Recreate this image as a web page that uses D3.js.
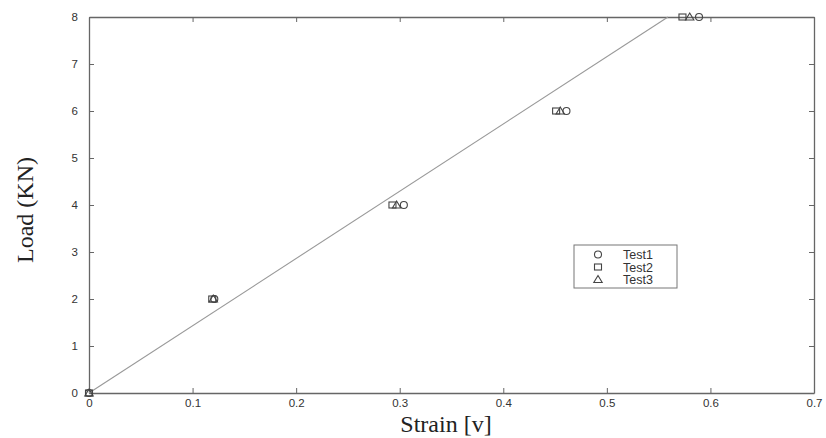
<!DOCTYPE html>
<html>
<head>
<meta charset="utf-8">
<script src="https://cdn.jsdelivr.net/npm/d3@7"></script>
<style>
  body { margin: 0; background: #fff; }
</style>
</head>
<body>
<div id="chart"></div>
<script>
// values
const loads = [0, 2, 4, 6, 8]
const test1 = [0, 0.121, 0.304, 0.461, 0.589]
const test2 = [0, 0.119, 0.293, 0.451, 0.573]
const test3 = [0, 0.120, 0.297, 0.455, 0.580]
const fitStrain = [0, 0.559]
const fitLoad = [0, 8]
const xTicks = [0, 0.1, 0.2, 0.3, 0.4, 0.5, 0.6, 0.7]
const yTicks = [0, 1, 2, 3, 4, 5, 6, 7, 8]

const width = 826, height = 438
const margin = { top: 17, left: 89, right: 12, bottom: 45 }
const w = width - margin.left - margin.right
const h = height - margin.top - margin.bottom

const svg = d3.select("#chart").append("svg")
    .attr("width", width).attr("height", height)

const g = svg.append("g")
    .attr("transform", `translate(${margin.left}, ${margin.top})`)

const x = d3.scaleLinear().domain([0, 0.7]).range([0, w])
const y = d3.scaleLinear().domain([0, 8]).range([h, 0])

const axisColor = "#666"
const fmt = d => d === 0 ? "0" : String(d)

// axes: bottom/left with labels, top/right with ticks only (inward)
const ax = [
    { a: d3.axisBottom(x).tickValues(xTicks).tickFormat(fmt), t: `translate(0,${h})`, pad: 6 },
    { a: d3.axisTop(x).tickValues(xTicks).tickFormat(""), t: "translate(0,0)", pad: 3 },
    { a: d3.axisLeft(y).tickValues(yTicks).tickFormat(fmt), t: "translate(0,0)", pad: 11 },
    { a: d3.axisRight(y).tickValues(yTicks).tickFormat(""), t: `translate(${w},0)`, pad: 3 }
]
ax.forEach(o => {
    const sel = g.append("g").attr("transform", o.t)
        .call(o.a.tickSizeInner(-5).tickSizeOuter(0).tickPadding(o.pad))
    sel.select(".domain").attr("stroke", axisColor).attr("stroke-width", 1.3)
    sel.selectAll(".tick line").attr("stroke", axisColor)
    sel.selectAll(".tick text")
        .attr("fill", "#333")
        .style("font-family", "Liberation Sans, Arial, sans-serif")
        .style("font-size", "11.5px")
})

// fit line
const fit = fitStrain.map((s, i) => [s, fitLoad[i]])
g.append("path")
    .datum(fit)
    .attr("fill", "none")
    .attr("stroke", "#999")
    .attr("stroke-width", 1.1)
    .attr("d", d3.line().x(d => x(d[0])).y(d => y(d[1])))

const markerColor = "#444"
function drawMarker(sel, shape) {
    if (shape === "circle") {
        sel.append("circle").attr("r", 3.5)
    } else if (shape === "square") {
        sel.append("rect").attr("x", -3.5).attr("y", -3).attr("width", 7).attr("height", 6)
    } else {
        sel.append("path").attr("d", "M0,-4L4.2,3L-4.2,3Z")
    }
    sel.selectAll("*").attr("fill", "none").attr("stroke", markerColor).attr("stroke-width", 1.1)
}

const series = [
    { name: "Test1", vals: test1, shape: "circle" },
    { name: "Test2", vals: test2, shape: "square" },
    { name: "Test3", vals: test3, shape: "triangle" }
]

series.forEach(s => {
    g.selectAll(".pt-" + s.name)
        .data(s.vals.map((v, i) => [v, loads[i]]))
        .enter().append("g")
        .attr("class", "pt-" + s.name)
        .attr("transform", d => `translate(${x(d[0])},${y(d[1])})`)
        .each(function () { drawMarker(d3.select(this), s.shape) })
})

// legend
const lg = svg.append("g").attr("transform", "translate(574,245)")
lg.append("rect").attr("width", 103).attr("height", 43)
    .attr("fill", "#fff").attr("stroke", "#777").attr("stroke-width", 1)
series.forEach((s, i) => {
    const row = lg.append("g").attr("transform", `translate(24,${9.5 + i * 12.5})`)
    drawMarker(row, s.shape)
    row.append("text").attr("x", 25).attr("y", 4.5)
        .text(s.name)
        .attr("fill", "#333")
        .style("font-family", "Liberation Sans, Arial, sans-serif")
        .style("font-size", "12.5px")
})

// axis titles
svg.append("text")
    .attr("x", 446).attr("y", 432)
    .attr("text-anchor", "middle")
    .style("font-family", "Liberation Serif, Times New Roman, serif")
    .style("font-size", "24px")
    .attr("fill", "#222")
    .text("Strain [v]")

svg.append("text")
    .attr("transform", `translate(33,210) rotate(-90)`)
    .attr("text-anchor", "middle")
    .style("font-family", "Liberation Serif, Times New Roman, serif")
    .style("font-size", "24px")
    .attr("fill", "#222")
    .text("Load (KN)")
</script>
</body>
</html>
